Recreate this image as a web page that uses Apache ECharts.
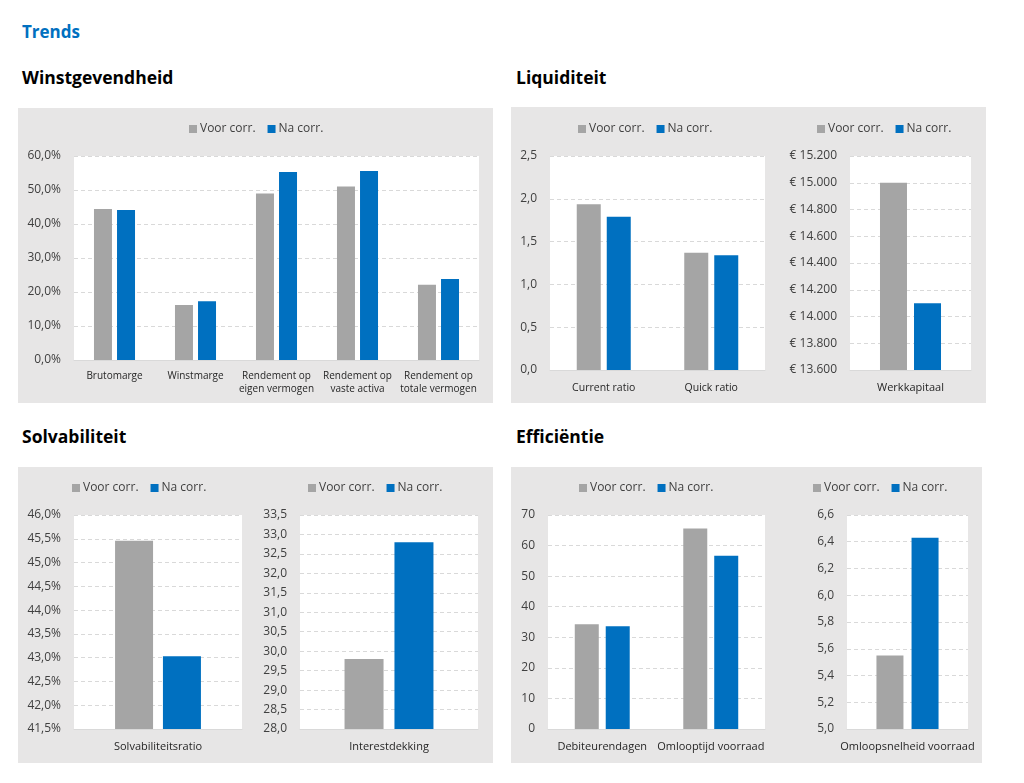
<!DOCTYPE html>
<html><head><meta charset="utf-8">
<script src="https://cdn.jsdelivr.net/npm/echarts@6/dist/echarts.min.js"></script>
<style>
html,body{margin:0;padding:0;background:#fff;width:1024px;height:783px;overflow:hidden;font-family:"Open Sans",sans-serif;}
.t{position:absolute;font-weight:bold;white-space:nowrap;}
.p{position:absolute;background:#E7E6E6;}
#c{position:absolute;left:0;top:0;width:1024px;height:783px;}
</style></head>
<body>
<div class="t" style="left:22px;top:20px;font-size:17px;color:#0070C0;">Trends</div>
<div class="t" style="left:22px;top:65px;font-size:17.5px;color:#000;">Winstgevendheid</div>
<div class="t" style="left:516px;top:65px;font-size:17.5px;color:#000;">Liquiditeit</div>
<div class="t" style="left:22px;top:424px;font-size:17.5px;color:#000;">Solvabiliteit</div>
<div class="t" style="left:516px;top:424px;font-size:17.5px;color:#000;">Efficiëntie</div>
<div class="p" style="left:18px;top:108px;width:475px;height:295px;"></div>
<div class="p" style="left:511px;top:107px;width:475px;height:296px;"></div>
<div class="p" style="left:18px;top:467px;width:475px;height:296px;"></div>
<div class="p" style="left:511px;top:467px;width:471px;height:296px;"></div>
<div id="c"></div>
<script>
const seriesNames = ['Voor corr.', 'Na corr.'];
// Winstgevendheid (%)
const winstCats = ['Brutomarge', 'Winstmarge', 'Rendement op\neigen vermogen', 'Rendement op\nvaste activa', 'Rendement op\ntotale vermogen'];
const winstVoor = [44.4, 16.2, 49.0, 51.0, 22.1];
const winstNa = [44.1, 17.3, 55.3, 55.6, 23.8];
// Liquiditeit ratios
const liqCats = ['Current ratio', 'Quick ratio'];
const liqVoor = [1.935, 1.37];
const liqNa = [1.79, 1.34];
// Werkkapitaal (€)
const wkCats = ['Werkkapitaal'];
const wkVoor = [15000];
const wkNa = [14100];
// Solvabiliteit (%)
const solvCats = ['Solvabiliteitsratio'];
const solvVoor = [45.46];
const solvNa = [43.03];
// Interestdekking
const intCats = ['Interestdekking'];
const intVoor = [29.8];
const intNa = [32.8];
// Efficiëntie (dagen)
const effCats = ['Debiteurendagen', 'Omlooptijd voorraad'];
const effVoor = [34.3, 65.6];
const effNa = [33.6, 56.7];
// Omloopsnelheid voorraad
const oslCats = ['Omloopsnelheid voorraad'];
const oslVoor = [5.55];
const oslNa = [6.43];

const GRAY = '#A5A5A5', BLUE = '#0070C0';
const FONT = 'Open Sans';
const dec = d => v => v.toFixed(d).replace('.', ',');
const pct = v => v.toFixed(1).replace('.', ',') + '%';
const eur = v => '€ ' + Math.round(v).toString().replace(/\B(?=(\d{3})+(?!\d))/g, '.');

const charts = [
  {grid:[74,156,405,204], cats:winstCats, voor:winstVoor, na:winstNa, min:0, max:60, interval:10, fmt:pct, bw:18, gap:'28%', legend:[189,123], xfs:10, xm:10, lh:13},
  {grid:[550,156,215,214], cats:liqCats, voor:liqVoor, na:liqNa, min:0, max:2.5, interval:0.5, fmt:dec(1), bw:24, gap:'25%', legend:[578,123], xfs:10.5, xm:12, lh:13},
  {grid:[850,156,121,214], cats:wkCats, voor:wkVoor, na:wkNa, min:13600, max:15200, interval:200, fmt:eur, bw:27, gap:'26%', legend:[817,123], xfs:11, xm:11, lh:13},
  {grid:[74,515,168,214], cats:solvCats, voor:solvVoor, na:solvNa, min:41.5, max:46, interval:0.5, fmt:pct, bw:38, gap:'26%', legend:[72,482], xfs:11, xm:11, lh:13},
  {grid:[300,515,178,214], cats:intCats, voor:intVoor, na:intNa, min:28, max:33.5, interval:0.5, fmt:dec(1), bw:39, gap:'28%', legend:[308,482], xfs:11, xm:11, lh:13},
  {grid:[548,515,217,214], cats:effCats, voor:effVoor, na:effNa, min:0, max:70, interval:10, fmt:dec(0), bw:24, gap:'29%', legend:[579,482], xfs:11, xm:11, lh:13},
  {grid:[847,515,121,214], cats:oslCats, voor:oslVoor, na:oslNa, min:5.0, max:6.6, interval:0.2, fmt:dec(1), bw:27, gap:'30%', legend:[813,482], xfs:11, xm:11, lh:13}
];

const option = {
  animation:false,
  textStyle:{fontFamily:FONT},
  grid:[], xAxis:[], yAxis:[], series:[], legend:[]
};
charts.forEach((c,i)=>{
  option.grid.push({left:c.grid[0], top:c.grid[1], width:c.grid[2], height:c.grid[3], show:true, backgroundColor:'#fff', borderWidth:0});
  option.xAxis.push({type:'category', gridIndex:i, data:c.cats,
    axisLine:{lineStyle:{color:'#D9D9D9'}}, axisTick:{show:false},
    axisLabel:{color:'#262626', fontSize:c.xfs, fontFamily:FONT, margin:c.xm, lineHeight:c.lh, interval:0}});
  option.yAxis.push({type:'value', gridIndex:i, min:c.min, max:c.max, interval:c.interval,
    axisLine:{show:false}, axisTick:{show:false},
    splitLine:{lineStyle:{color:'#D9D9D9', type:[4,3]}},
    axisLabel:{color:'#404040', fontSize:12, fontFamily:FONT, margin:13, formatter:c.fmt}});
  option.series.push({type:'bar', name:seriesNames[0], xAxisIndex:i, yAxisIndex:i, data:c.voor, barWidth:c.bw, barGap:c.gap, itemStyle:{color:GRAY}});
  option.series.push({type:'bar', name:seriesNames[1], xAxisIndex:i, yAxisIndex:i, data:c.na, barWidth:c.bw, barGap:c.gap, itemStyle:{color:BLUE}});
  option.legend.push({data:seriesNames, left:c.legend[0], top:c.legend[1], icon:'rect', itemWidth:8, itemHeight:8, itemGap:12,
    textStyle:{color:'#404040', fontSize:12, fontFamily:FONT, padding:[0,0,0,-2]}, selectedMode:false, padding:0});
});
const chart = echarts.init(document.getElementById('c'), null, {renderer:'canvas'});
chart.setOption(option);
</script>
</body></html>
